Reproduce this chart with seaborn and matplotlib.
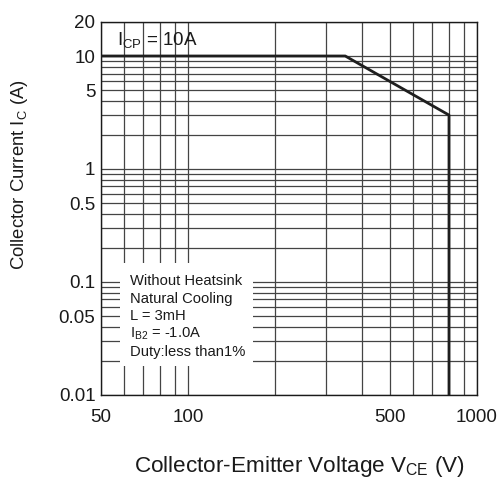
import matplotlib
matplotlib.use("Agg")
import matplotlib.pyplot as plt
from matplotlib.patches import Rectangle
from matplotlib.ticker import FixedLocator, NullFormatter
import seaborn as sns

# safe operating area boundary
vce = [50, 350, 800, 800]
ic = [10, 10, 3, 0.01]

x_major = [50, 100, 500, 1000]
x_minor = [60, 70, 80, 90, 200, 300, 400, 600, 700, 800, 900]
y_major = [0.01, 0.05, 0.1, 0.5, 1, 5, 10, 20]
y_minor = [0.02, 0.03, 0.04, 0.06, 0.07, 0.08, 0.09,
           0.2, 0.3, 0.4, 0.6, 0.7, 0.8, 0.9,
           2, 3, 4, 6, 7, 8, 9]
x_ticklabels = ["50", "100", "500", "1000"]
y_ticklabels = ["0.01", "0.05", "0.1", "0.5", "1", "5", "10", "20"]

conditions = ["Without Heatsink", "Natural Cooling", "L = 3mH",
              r"$\mathregular{I_{B2}}$ = -1.0A", "Duty:less than1%"]

sns.set_theme(style="white")
plt.rcParams["font.family"] = ["Liberation Sans", "DejaVu Sans"]
plt.rcParams["mathtext.default"] = "regular"

fig = plt.figure(figsize=(5.01, 4.79), dpi=100)
ax = fig.add_axes([0.2016, 0.1754, 0.7505, 0.7787])
ax.set_xscale("log")
ax.set_yscale("log")

sns.lineplot(x=vce, y=ic, ax=ax, sort=False, estimator=None,
             color="#1e1e1e", linewidth=2.0, zorder=3)

ax.set_xlim(50, 1000)
ax.set_ylim(0.01, 20)

ax.xaxis.set_major_locator(FixedLocator(x_major))
ax.xaxis.set_minor_locator(FixedLocator(x_minor))
ax.yaxis.set_major_locator(FixedLocator(y_major))
ax.yaxis.set_minor_locator(FixedLocator(y_minor))
ax.set_xticklabels(x_ticklabels)
ax.set_yticklabels(y_ticklabels)
ax.xaxis.set_minor_formatter(NullFormatter())
ax.yaxis.set_minor_formatter(NullFormatter())

ax.tick_params(axis="both", which="both", length=0, labelsize=13.5, colors="#1a1a1a")
ax.tick_params(axis="x", pad=10)
ax.tick_params(axis="y", pad=4)

ax.grid(True, which="both", color="#444444", linewidth=0.9)
ax.set_axisbelow(True)
for sp in ax.spines.values():
    sp.set_color("#1a1a1a")
    sp.set_linewidth(1.0)

# white box that hides the grid behind the test conditions
ax.add_patch(Rectangle((0.0505, 0.078), 0.354, 0.276, transform=ax.transAxes,
                       facecolor="white", edgecolor="none", zorder=1))
for i, txt in enumerate(conditions):
    ax.text(0.077, 0.306 - i * 0.0475, txt, transform=ax.transAxes,
            fontsize=10.6, va="center", ha="left", color="#1a1a1a", zorder=4)

ax.text(0.0426, 0.952, r"$\mathregular{I_{CP}}$ = 10A", transform=ax.transAxes,
        fontsize=13.5, va="center", ha="left", color="#1a1a1a", zorder=4)

ax.set_xlabel(r"Collector-Emitter Voltage $\mathregular{V_{CE}}$ (V)", fontsize=16.2, color="#1a1a1a")
ax.set_ylabel(r"Collector Current $\mathregular{I_{C}}$ (A)", fontsize=13.3, color="#1a1a1a")
ax.xaxis.set_label_coords(0.527, -0.157)
ax.yaxis.set_label_coords(-0.188, 0.59)

fig.savefig("out.png", dpi=100)
